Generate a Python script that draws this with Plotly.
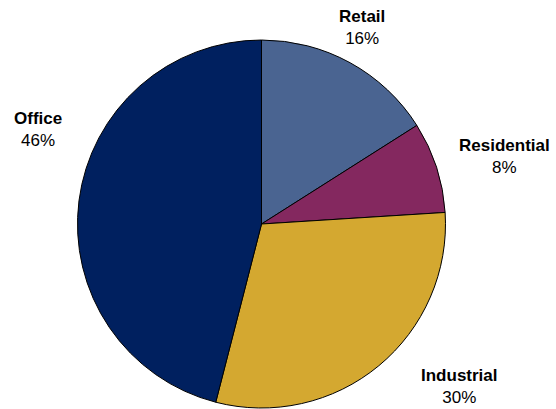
import plotly.graph_objects as go

categories = ["Retail", "Residential", "Industrial", "Office"]
values = [16, 8, 30, 46]
colors = ["#4A6491", "#84285F", "#D4A830", "#00205F"]

# label centre positions in pixels (layout only)
label_pos = {
    "Retail": (362, 27.5),
    "Residential": (504, 156),
    "Industrial": (459, 386.5),
    "Office": (38, 129.5),
}

W, H = 556, 409
cx, cy, r = 261.5, 224, 184

fig = go.Figure(go.Pie(
    labels=categories,
    values=values,
    sort=False,
    direction="clockwise",
    rotation=0,
    marker=dict(colors=colors, line=dict(color="#000000", width=1)),
    textinfo="none",
    hoverinfo="label+percent",
    domain=dict(x=[(cx - r) / W, (cx + r) / W],
                y=[(H - cy - r) / H, (H - cy + r) / H]),
    showlegend=False,
))

total = sum(values)
annotations = []
for cat, v in zip(categories, values):
    px, py = label_pos[cat]
    annotations.append(dict(
        x=px / W, y=1 - py / H, xref="paper", yref="paper",
        xanchor="center", yanchor="middle", showarrow=False,
        text=f"<b>{cat}</b><br>{round(100 * v / total)}%",
        font=dict(family="Liberation Sans, Arial, sans-serif", size=17, color="#000000"),
        align="center",
    ))

fig.update_layout(
    width=W, height=H,
    margin=dict(l=0, r=0, t=0, b=0),
    paper_bgcolor="white", plot_bgcolor="white",
    annotations=annotations,
)

fig.write_html(
    "out.html",
    config={"displayModeBar": False},
    post_script="document.body.style.margin='0px';document.body.style.padding='0px';document.body.style.overflow='hidden';",
)
